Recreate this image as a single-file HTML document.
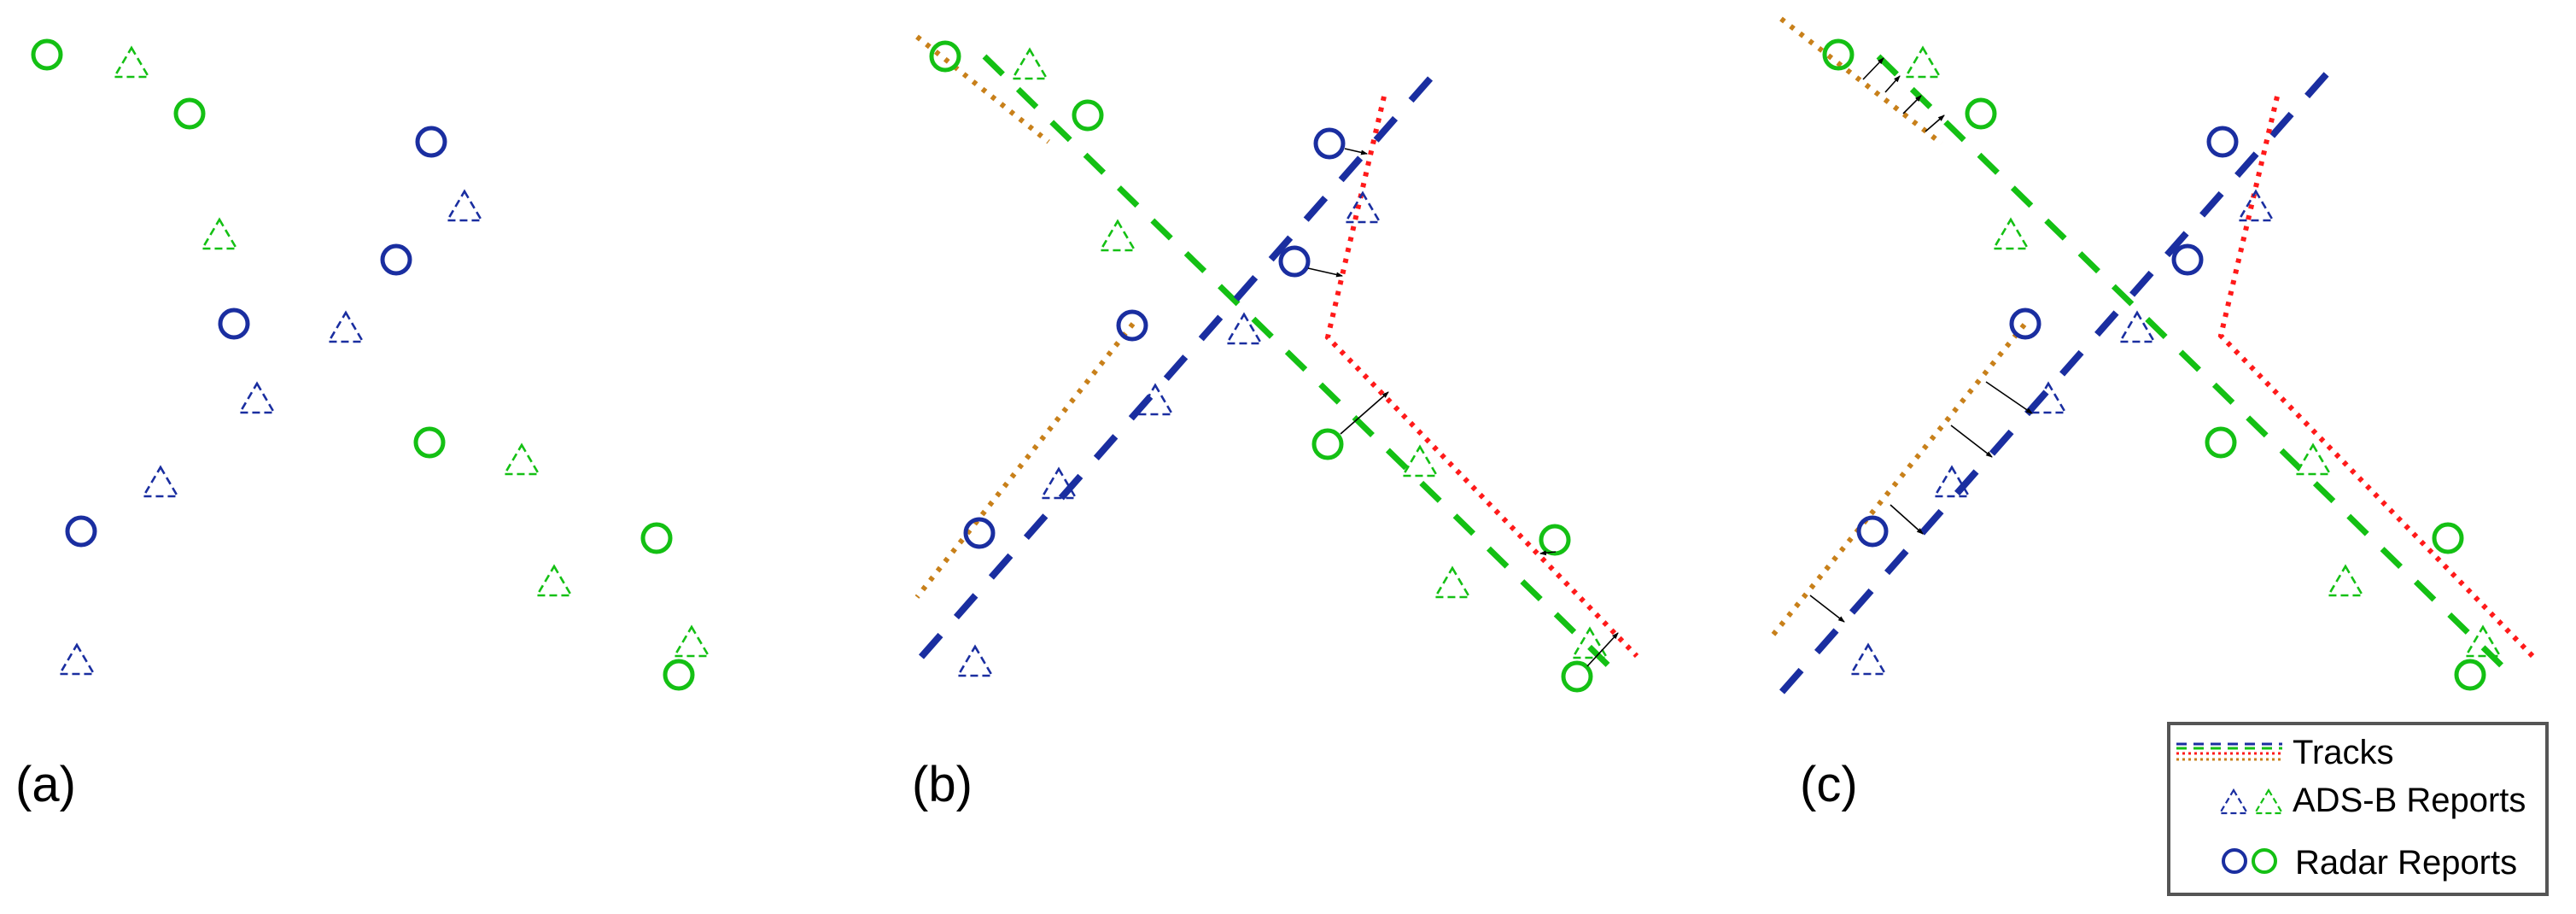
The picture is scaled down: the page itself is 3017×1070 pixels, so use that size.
<!DOCTYPE html>
<html><head><meta charset="utf-8"><style>
html,body{margin:0;padding:0;background:#fff;}
svg{display:block;}
text{font-family:"Liberation Sans",sans-serif;fill:#000;}
</style></head><body>
<svg width="3017" height="1070" viewBox="0 0 3017 1070" xmlns="http://www.w3.org/2000/svg">
<defs>
<marker id="ah" markerWidth="8" markerHeight="8" refX="7" refY="4" orient="auto" markerUnits="userSpaceOnUse">
<path d="M0,1 L8,4 L0,7 z" fill="#000"/>
</marker>
<g id="pts">
<g fill="none" stroke-width="5">
<g stroke="#14c014">
<circle cx="55" cy="64" r="16"/><circle cx="222" cy="133" r="16"/><circle cx="503" cy="518" r="16"/>
<circle cx="769" cy="630" r="16"/><circle cx="795" cy="790" r="16"/>
</g>
<g stroke="#1a2ea0">
<circle cx="505" cy="166" r="16"/><circle cx="464" cy="304" r="16"/><circle cx="274" cy="379" r="16"/>
<circle cx="95" cy="622" r="16"/>
</g>
</g>
<g fill="none" stroke-width="2.6" stroke-dasharray="9 5">
<g stroke="#14c014">
<polygon points="154,56 174,90 134,90"/><polygon points="257,257 277,291 237,291"/>
<polygon points="611,521 631,555 591,555"/><polygon points="649,663 669,697 629,697"/>
<polygon points="810,734 830,768 790,768"/>
</g>
<g stroke="#1a2ea0">
<polygon points="544,224 564,258 524,258"/><polygon points="405,366 425,400 385,400"/>
<polygon points="301,449 321,483 281,483"/><polygon points="188,547 208,581 168,581"/>
<polygon points="90,755 110,789 70,789"/>
</g>
</g>
</g>
</defs>

<!-- Panel a -->
<use href="#pts"/>

<!-- Panel b -->
<g transform="translate(1052,2)">
<line x1="22" y1="41" x2="176" y2="164" stroke="#c8801a" stroke-width="6" stroke-dasharray="5 9"/>
<line x1="275" y1="377" x2="22" y2="697" stroke="#c8801a" stroke-width="6" stroke-dasharray="5 9"/>
<line x1="101" y1="64" x2="845" y2="790" stroke="#14c014" stroke-width="7" stroke-dasharray="30 25"/>
<line x1="27" y1="767" x2="638" y2="73" stroke="#1a2ea0" stroke-width="8" stroke-dasharray="34 28"/>
<polyline points="569,111 503,393 865,766" fill="none" stroke="#ff1a1a" stroke-width="6" stroke-dasharray="5 8"/>
<use href="#pts" transform="translate(0,0)"/>
<g stroke="#000" stroke-width="1.6" marker-end="url(#ah)">
<line x1="523" y1="172" x2="549" y2="178"/>
<line x1="480" y1="312" x2="520" y2="321"/>
<line x1="518" y1="506" x2="574" y2="457"/>
<line x1="770" y1="644" x2="752" y2="646"/>
<line x1="807" y1="778" x2="843" y2="739"/>
</g>
</g>

<!-- Panel c -->
<g transform="translate(2098,0)">
<line x1="-12" y1="22" x2="176" y2="168" stroke="#c8801a" stroke-width="6" stroke-dasharray="5 9"/>
<line x1="273" y1="380" x2="-22" y2="744" stroke="#c8801a" stroke-width="6" stroke-dasharray="5 9"/>
<line x1="102" y1="66" x2="845" y2="792" stroke="#14c014" stroke-width="7" stroke-dasharray="30 25"/>
<line x1="-11" y1="810" x2="638" y2="74" stroke="#1a2ea0" stroke-width="8" stroke-dasharray="34 28"/>
<polyline points="569,113 503,393 870,770" fill="none" stroke="#ff1a1a" stroke-width="6" stroke-dasharray="5 8"/>
<use href="#pts"/>
<g stroke="#000" stroke-width="1.6" marker-end="url(#ah)">
<line x1="84" y1="93" x2="108" y2="68"/>
<line x1="110" y1="108" x2="127" y2="89"/>
<line x1="131" y1="133" x2="152" y2="112"/>
<line x1="157" y1="154" x2="179" y2="135"/>
<line x1="228" y1="447" x2="282" y2="484"/>
<line x1="187" y1="498" x2="235" y2="535"/>
<line x1="116" y1="591" x2="154" y2="625"/>
<line x1="22" y1="697" x2="62" y2="728"/>
</g>
</g>

<!-- labels -->
<text x="18" y="938" font-size="58">(a)</text>
<text x="1068" y="938" font-size="58">(b)</text>
<text x="2108" y="938" font-size="58">(c)</text>

<!-- legend -->
<rect x="2540" y="847" width="443" height="200" fill="#fff" stroke="#555" stroke-width="4"/>
<g>
<line x1="2549" y1="871" x2="2673" y2="871" stroke="#1a2ea0" stroke-width="3" stroke-dasharray="12 8"/>
<line x1="2549" y1="876" x2="2673" y2="876" stroke="#14c014" stroke-width="3" stroke-dasharray="12 8"/>
<line x1="2549" y1="882" x2="2673" y2="882" stroke="#ff1a1a" stroke-width="3" stroke-dasharray="3 4"/>
<line x1="2549" y1="889" x2="2673" y2="889" stroke="#c8801a" stroke-width="3" stroke-dasharray="3 4"/>
</g>
<polygon points="2616,925 2632,952 2600,952" fill="none" stroke="#1a2ea0" stroke-width="2.2" stroke-dasharray="7 4"/>
<polygon points="2657,925 2673,952 2641,952" fill="none" stroke="#14c014" stroke-width="2.2" stroke-dasharray="7 4"/>
<circle cx="2617" cy="1008" r="13" fill="none" stroke="#1a2ea0" stroke-width="4"/>
<circle cx="2652" cy="1008" r="13" fill="none" stroke="#14c014" stroke-width="4"/>
<text x="2685" y="894" font-size="40">Tracks</text>
<text x="2685" y="950" font-size="40">ADS-B Reports</text>
<text x="2688" y="1023" font-size="40">Radar Reports</text>
</svg>
</body></html>
